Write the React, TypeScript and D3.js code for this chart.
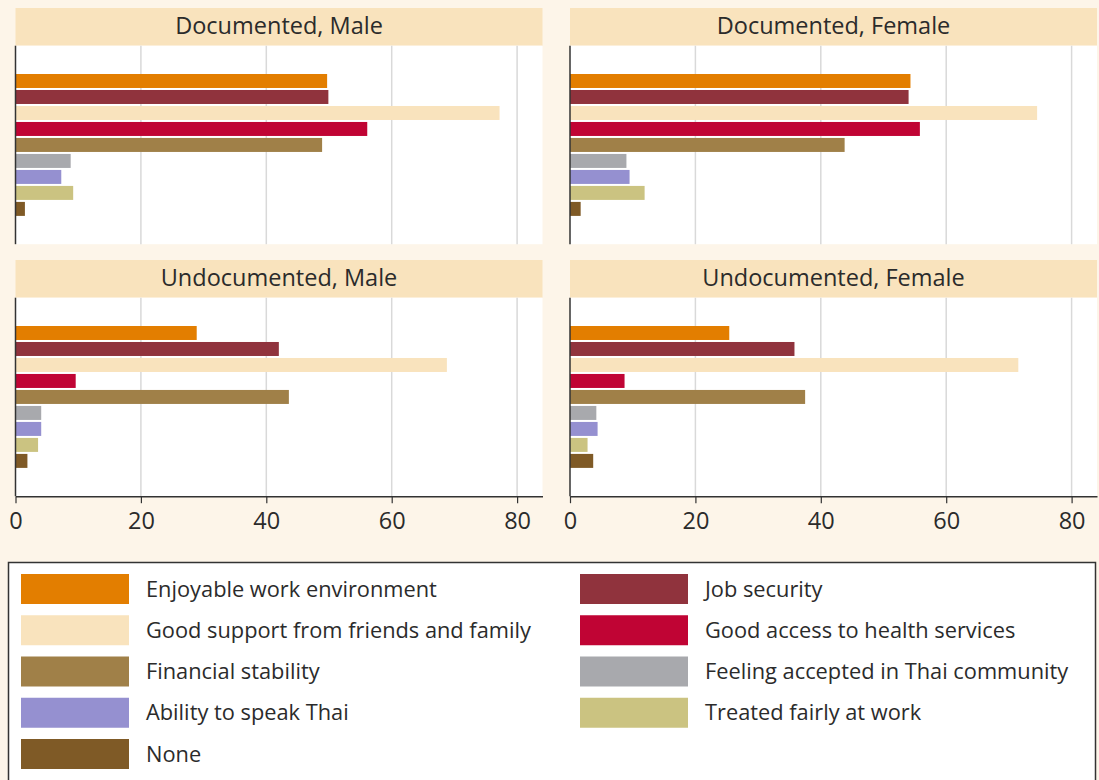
import { useEffect, useRef } from 'react';
import * as d3 from 'd3';

const categories = [
  'Enjoyable work environment',
  'Job security',
  'Good support from friends and family',
  'Good access to health services',
  'Financial stability',
  'Feeling accepted in Thai community',
  'Ability to speak Thai',
  'Treated fairly at work',
  'None',
];

const colors = [
  '#E37E00',
  '#90333D',
  '#F9E3BD',
  '#C00434',
  '#A08048',
  '#A8A9AD',
  '#9590D0',
  '#CBC381',
  '#7F5A26',
];

const panelTitles = [
  'Documented, Male',
  'Documented, Female',
  'Undocumented, Male',
  'Undocumented, Female',
];

const documentedMale = [49.7, 49.9, 77.2, 56.1, 48.9, 8.8, 7.3, 9.2, 1.5];
const documentedFemale = [54.3, 54.0, 74.5, 55.8, 43.8, 9.0, 9.5, 11.9, 1.7];
const undocumentedMale = [28.9, 42.0, 68.8, 9.6, 43.6, 4.1, 4.1, 3.6, 1.9];
const undocumentedFemale = [25.4, 35.8, 71.5, 8.7, 37.5, 4.2, 4.4, 2.8, 3.7];

const xTicks = [0, 20, 40, 60, 80];

const W = 1099;
const H = 780;
const FONT = '"Open Sans", sans-serif';

export default function App() {
  const svgRef = useRef<SVGSVGElement | null>(null);

  useEffect(() => {
    if (!svgRef.current) return;
    const svg = d3.select(svgRef.current);
    svg.selectAll('*').remove();

    svg.append('rect').attr('width', W).attr('height', H).attr('fill', '#FDF5E9');

    const series = [documentedMale, documentedFemale, undocumentedMale, undocumentedFemale];
    const colX = [15.5, 570];
    const rowY = [8, 260];
    const panelW = 527;
    const stripH = 37.7;
    const plotH = 198.5;

    const x = d3.scaleLinear().domain([0, 84.05]).range([0, panelW]);
    const y = d3.scaleBand<string>()
      .domain(categories)
      .range([0, plotH])
      .paddingInner(0.125)
      .paddingOuter(1.77);
    const color = d3.scaleOrdinal<string, string>().domain(categories).range(colors);

    series.forEach((values, i) => {
      const col = i % 2;
      const row = Math.floor(i / 2);
      const g = svg.append('g')
        .attr('transform', `translate(${colX[col]},${rowY[row]})`);

      // strip
      g.append('rect')
        .attr('width', panelW)
        .attr('height', stripH)
        .attr('fill', '#F9E3BD');
      g.append('text')
        .attr('x', panelW / 2)
        .attr('y', stripH / 2 - 1)
        .attr('dy', '0.35em')
        .attr('text-anchor', 'middle')
        .attr('font-family', FONT)
        .attr('font-size', 23.5)
        .attr('fill', '#2b2b2b')
        .text(panelTitles[i]);

      const p = g.append('g').attr('transform', `translate(0,${stripH})`);
      p.append('rect').attr('width', panelW).attr('height', plotH).attr('fill', '#fff');

      // gridlines
      p.selectAll('line.grid')
        .data(xTicks.filter(t => t > 0))
        .join('line')
        .attr('class', 'grid')
        .attr('x1', d => x(d))
        .attr('x2', d => x(d))
        .attr('y1', 0)
        .attr('y2', plotH)
        .attr('stroke', '#d9d9d9')
        .attr('stroke-width', 1.5);

      // bars
      p.selectAll('rect.bar')
        .data(values)
        .join('rect')
        .attr('class', 'bar')
        .attr('x', x(0))
        .attr('y', (_, j) => y(categories[j]) as number)
        .attr('width', d => x(d) - x(0))
        .attr('height', y.bandwidth())
        .attr('fill', (_, j) => color(categories[j]));

      // left axis line
      p.append('line')
        .attr('x1', 0).attr('x2', 0)
        .attr('y1', 0).attr('y2', plotH)
        .attr('stroke', '#333')
        .attr('stroke-width', 1.5);

      if (row === 1) {
        const axis = p.append('g')
          .attr('transform', `translate(0,${plotH})`)
          .call(d3.axisBottom(x).tickValues(xTicks).tickSize(7).tickSizeOuter(0).tickPadding(9));
        axis.select('.domain').attr('stroke', '#333').attr('stroke-width', 1.5);
        axis.selectAll('.tick line').attr('stroke', '#333').attr('stroke-width', 1.2);
        axis.selectAll('.tick text')
          .attr('font-family', FONT)
          .attr('font-size', 23.5)
          .attr('fill', '#2b2b2b');
      }
    });

    // legend
    const legend = svg.append('g').attr('transform', 'translate(8.5,562.5)');
    legend.append('rect')
      .attr('width', 1087)
      .attr('height', 240)
      .attr('fill', '#fff')
      .attr('stroke', '#333')
      .attr('stroke-width', 1.5);

    const legendCol = d3.scaleOrdinal<number, number>().domain([0, 1]).range([12.5, 571.5]);
    const legendRow = d3.scaleLinear().domain([0, 1]).range([11.5, 52.75]);

    const items = legend.selectAll('g.item')
      .data(categories)
      .join('g')
      .attr('class', 'item')
      .attr('transform', (_, j) => `translate(${legendCol(j % 2)},${legendRow(Math.floor(j / 2))})`);
    items.append('rect')
      .attr('width', 108)
      .attr('height', 30)
      .attr('fill', d => color(d));
    items.append('text')
      .attr('x', 125)
      .attr('y', 15)
      .attr('dy', '0.35em')
      .attr('font-family', FONT)
      .attr('font-size', 21.8)
      .attr('fill', '#2b2b2b')
      .text(d => d);
  }, []);

  return (
    <svg
      ref={svgRef}
      width={W}
      height={H}
      style={{ position: 'absolute', left: 0, top: 0, display: 'block' }}
    />
  );
}
